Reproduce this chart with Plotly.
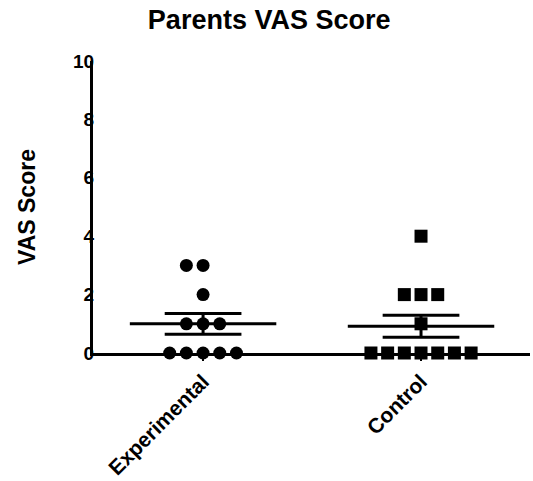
import numpy as np
import plotly.graph_objects as go

categories = ["Experimental", "Control"]
experimental = [0, 0, 0, 0, 0, 1, 1, 1, 2, 3, 3]
control = [0, 0, 0, 0, 0, 0, 0, 1, 2, 2, 2, 4]
y_ticks = [0, 2, 4, 6, 8, 10]

groups = [experimental, control]
symbols = ["circle", "square"]
FONT = "Liberation Sans, Arial, sans-serif"
STEP = 0.0766
MEAN_HW = 0.336
CAP_HW = 0.176

fig = go.Figure()

for ci, (vals, sym) in enumerate(zip(groups, symbols)):
    vals = np.array(vals, dtype=float)
    xs, ys = [], []
    for v in sorted(set(vals)):
        n = int((vals == v).sum())
        for i in range(n):
            xs.append(ci + (i - n // 2) * STEP)
            ys.append(v)
    mean = vals.mean()
    sem = vals.std(ddof=1) / np.sqrt(len(vals))
    line = dict(color="black", width=3)
    fig.add_trace(go.Scatter(x=[ci - MEAN_HW, ci + MEAN_HW], y=[mean, mean], mode="lines",
                             line=line, showlegend=False, hoverinfo="skip"))
    for yv in (mean - sem, mean + sem):
        fig.add_trace(go.Scatter(x=[ci - CAP_HW, ci + CAP_HW], y=[yv, yv], mode="lines",
                                 line=line, showlegend=False, hoverinfo="skip"))
    fig.add_trace(go.Scatter(x=[ci, ci], y=[mean - sem, mean + sem], mode="lines",
                             line=line, showlegend=False, hoverinfo="skip"))
    fig.add_trace(go.Scatter(x=xs, y=ys, mode="markers", cliponaxis=False,
                             marker=dict(symbol=sym, size=13, color="black",
                                         line=dict(width=0)),
                             showlegend=False))

fig.update_layout(
    width=533, height=481,
    margin=dict(l=93, r=3, t=61, b=128, autoexpand=False),
    paper_bgcolor="white", plot_bgcolor="white",
    font=dict(family=FONT, color="black"),
    title=dict(text="<b>Parents VAS Score</b>", x=0.505, xanchor="center",
               y=0.96, yanchor="middle", font=dict(size=27, family=FONT, color="black")),
    xaxis=dict(range=[-0.505, 1.5], tickmode="array", tickvals=[0, 1],
               ticktext=["<b>%s</b>" % c for c in categories], tickangle=-45,
               tickfont=dict(size=21, family=FONT, color="black"),
               showline=True, linecolor="black", linewidth=3, ticks="outside",
               ticklen=5, tickwidth=2, tickcolor="black", showgrid=False, zeroline=False),
    yaxis=dict(range=[0, 10], tickmode="array", tickvals=y_ticks,
               ticktext=["<b>%d</b>" % t for t in y_ticks],
               tickfont=dict(size=19, family=FONT, color="black"),
               showline=True, linecolor="black", linewidth=3, ticks="outside",
               ticklen=0, ticklabelstandoff=-8, showgrid=False, zeroline=False,
               title=dict(text="<b>VAS Score</b>", font=dict(size=23, family=FONT, color="black"),
                          standoff=32)),
)

fig.write_html("out.html", config={"displayModeBar": False},
               post_script="document.body.style.margin='0';")
